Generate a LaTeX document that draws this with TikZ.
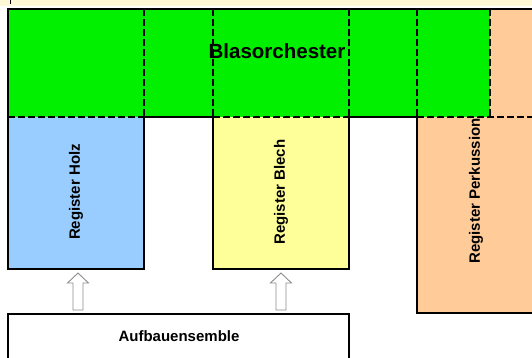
\documentclass[tikz,border=0pt]{standalone}
\usepackage{fontspec}
\setmainfont{Liberation Sans}
\usetikzlibrary{calc}
\definecolor{cream}{HTML}{FFF8D6}
\definecolor{orchc}{HTML}{00F000}
\definecolor{holzc}{HTML}{99CCFF}
\definecolor{blechc}{HTML}{FFFF99}
\definecolor{perkc}{HTML}{FFCC99}
\newcommand\hollowup[2]{\draw[upa] ($(#1)+(-5,0)$) -- ($(#2)+(-5,10)$) -- ($(#2)+(-10.5,10)$) -- (#2) -- ($(#2)+(10.5,10)$) -- ($(#2)+(5,10)$) -- ($(#1)+(5,0)$) -- cycle;}
\begin{document}
\begin{tikzpicture}[x=1pt,y=-1pt,
  edge/.style={line width=2pt, black},
  hidden/.style={line width=2pt, black, dash pattern=on 7pt off 3pt},
  lbl/.style={font=\bfseries\fontsize{15}{18}\selectfont, inner sep=0pt},
  upa/.style={draw=black!45, fill=white, line width=0.9pt, line join=miter}]
\useasboundingbox (0,0) rectangle (532,358);
% top strip
\fill[cream] (0,0) rectangle (532,6);
\draw[line width=1pt] (10,0) -- (10,4);
% fills
\path[fill=perkc] (417,9) rectangle (540,313);
\path[fill=holzc] (8,9) rectangle (144,269);
\path[fill=blechc] (213,9) rectangle (349,269);
\path[fill=orchc] (8,9) rectangle (490,117);
\path[fill=white, draw=black, line width=2pt] (8,314) rectangle (349,370);
% solid edges
\draw[edge] (532,9) -- (8,9) -- (8,269) -- (144,269) -- (144,117);
\draw[edge] (144,117) -- (213,117);
\draw[edge] (213,117) -- (213,269) -- (349,269) -- (349,117) -- (417,117) -- (417,313) -- (540,313);
% hidden (dashed) edges
\draw[hidden] (8,117) -- (144,117);
\draw[hidden] (213,117) -- (349,117);
\draw[hidden] (417,117) -- (532,117);
\draw[hidden] (144,9) -- (144,117);
\draw[hidden] (213,9) -- (213,117);
\draw[hidden] (349,9) -- (349,117);
\draw[hidden] (417,9) -- (417,117);
\draw[hidden] (490,9) -- (490,117);
% labels
\node[font=\bfseries\fontsize{20.5}{24}\selectfont, inner sep=0pt] (orch) at (277,51) {Blasorchester};
\node[lbl, rotate=90] (holz) at (76,192) {Register Holz};
\node[lbl, rotate=90] (blech) at (281,192) {Register Blech};
\node[lbl, rotate=90] (perk) at (476,191) {Register Perkussion};
\node[lbl] (aufbau) at (179,336) {Aufbauensemble};
% hollow arrows
\coordinate (a1s) at (78,310);
\coordinate (a1e) at (78,273);
\coordinate (a2s) at (281,310);
\coordinate (a2e) at (281,273);
\hollowup{a1s}{a1e}
\hollowup{a2s}{a2e}
\end{tikzpicture}
\end{document}
